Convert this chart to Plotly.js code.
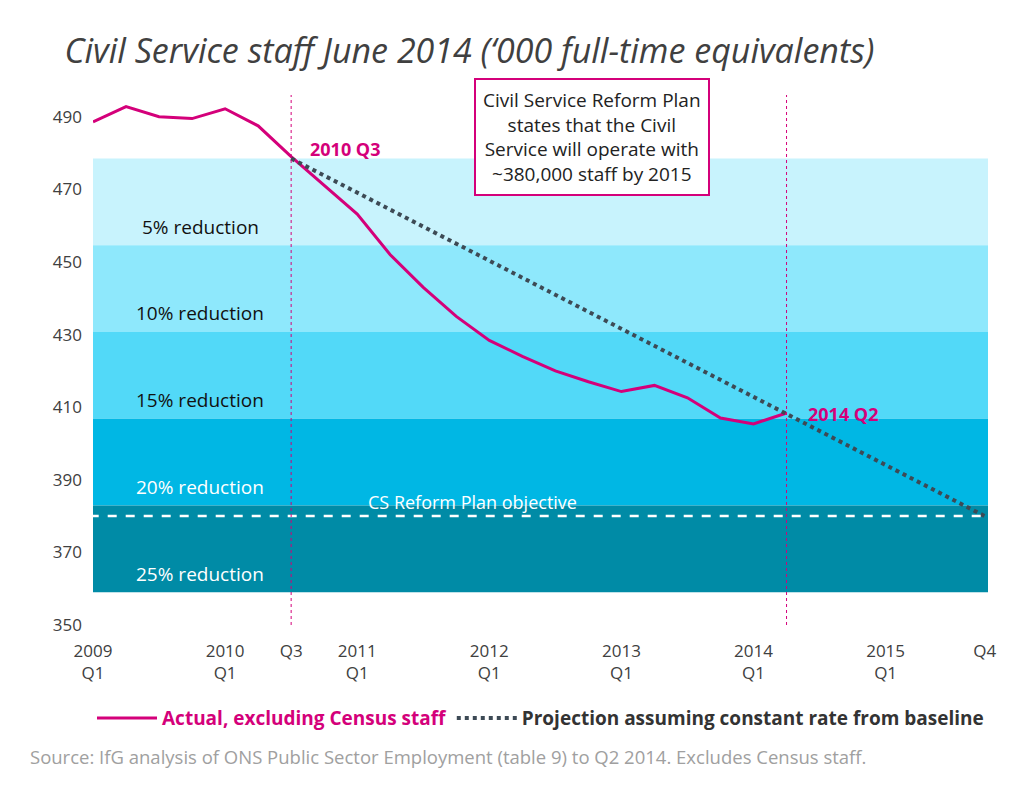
<!DOCTYPE html>
<html>
<head>
<meta charset="utf-8">
<script src="https://cdn.plot.ly/plotly-3.0.1.min.js"></script>
<style>body{margin:0;background:#fff}#chart{width:1024px;height:787px}</style>
</head>
<body>
<div id="chart"></div>
<script>
// quarter index: 0 = 2009 Q1 ... 27 = 2015 Q4
const actualQuarters = [0,1,2,3,4,5,6,7,8,9,10,11,12,13,14,15,16,17,18,19,20,21];
const actualStaff = [488.6,492.8,490,489.5,492.2,487.5,479,471,463.2,452,443,435,428.4,424,420,417,414.3,416,412.6,407,405.4,408.4];
const projQuarters = [6, 27];
const projStaff = [478.5, 380];
const bandEdges = [478.5, 454.6, 430.7, 406.8, 382.9, 359];
const bandLabels = ['5% reduction','10% reduction','15% reduction','20% reduction','25% reduction'];
const bandColors = ['#c8f3fd','#8ee8fc','#52d9f8','#00b7e4','#008ba6'];
const bandTextColors = ['#111','#111','#111','#fff','#fff'];
const objective = 380;
const tickVals = [0,4,6,8,12,16,20,24,27];
const tickText = ['2009<br>Q1','2010<br>Q1','Q3','2011<br>Q1','2012<br>Q1','2013<br>Q1','2014<br>Q1','2015<br>Q1','Q4'];
const MAGENTA = '#d4007a';

const shapes = bandLabels.map((_, i) => ({
  type: 'rect', xref: 'x', yref: 'y', x0: -0.1, x1: 27.1,
  y0: bandEdges[i + 1], y1: bandEdges[i], fillcolor: bandColors[i], line: { width: 0 }, layer: 'below',
}));
shapes.push({ type: 'line', xref: 'x', yref: 'y', x0: -0.1, x1: 27.1, y0: objective, y1: objective,
  line: { color: '#fff', width: 2.5, dash: 'dash' } });
[6, 21].forEach(q => shapes.push({ type: 'line', xref: 'x', yref: 'paper', x0: q, x1: q, y0: 0, y1: 1,
  line: { color: MAGENTA, width: 1, dash: 'dot' } }));

const annotations = bandLabels.map((t, i) => ({
  x: 3.25, y: (bandEdges[i] + bandEdges[i + 1]) / 2 - 6.8, xref: 'x', yref: 'y', text: t, showarrow: false,
  font: { size: 19, color: bandTextColors[i] },
}));
annotations.push(
  { x: 11.5, y: objective + 4, xref: 'x', yref: 'y', text: 'CS Reform Plan objective', showarrow: false,
    font: { size: 18, color: '#fff' } },
  { x: 6.5, y: 481, xref: 'x', yref: 'y', text: '<b>2010 Q3</b>', showarrow: false, xanchor: 'left',
    font: { size: 18, color: MAGENTA } },
  { x: 21.6, y: 408, xref: 'x', yref: 'y', text: '<b>2014 Q2</b>', showarrow: false, xanchor: 'left',
    font: { size: 18, color: MAGENTA } },
  { x: 15.1, y: 484.5, xref: 'x', yref: 'y',
    text: 'Civil Service Reform Plan<br>states that the Civil<br>Service will operate with<br>~380,000 staff by 2015',
    showarrow: false, font: { size: 19, color: '#222' }, bgcolor: '#fff',
    bordercolor: MAGENTA, borderwidth: 2, borderpad: 7 },
  { x: 0, y: -0.22, xref: 'paper', yref: 'paper', xanchor: 'left', yanchor: 'top',
    xshift: -65, text: 'Source: IfG analysis of ONS Public Sector Employment (table 9) to Q2 2014. Excludes Census staff.',
    showarrow: false, font: { size: 18.5, color: '#a0a0a0' } }
);

const traces = [
  { x: actualQuarters, y: actualStaff, mode: 'lines', name: '<span style="color:' + MAGENTA + '"><b>Actual, excluding Census staff</b></span>',
    line: { color: MAGENTA, width: 3 } },
  { x: projQuarters, y: projStaff, mode: 'lines', name: '<span style="color:#333"><b>Projection assuming constant rate from baseline</b></span>',
    line: { color: '#3d4a55', width: 4, dash: 'dot' } },
];

const layout = {
  width: 1024, height: 787,
  paper_bgcolor: '#fff', plot_bgcolor: '#fff',
  font: { family: 'Open Sans, sans-serif', size: 18, color: '#404040' },
  margin: { t: 95, r: 36, b: 162, l: 93 },
  title: { text: '<i>Civil Service staff June 2014 (‘000 full-time equivalents)</i>', x: 0.063, xanchor: 'left', y: 0.95,
    font: { size: 34, color: '#404040' } },
  xaxis: { range: [0, 27.1], tickvals: tickVals, ticktext: tickText, showgrid: false, zeroline: false,
    showline: false, ticks: '', tickfont: { size: 17, color: '#404040' }, ticklabelstandoff: 14 },
  yaxis: { range: [350, 496], tickvals: [350,370,390,410,430,450,470,490], showgrid: false, zeroline: false,
    ticks: '', tickfont: { size: 17, color: '#404040' }, ticklabelstandoff: 10 },
  shapes, annotations,
  legend: { orientation: 'h', x: 0.5, xanchor: 'center', y: -0.14, yanchor: 'top', font: { size: 19 },
    itemwidth: 60 },
};

Plotly.newPlot('chart', traces, layout, { displayModeBar: false });
</script>
</body>
</html>
